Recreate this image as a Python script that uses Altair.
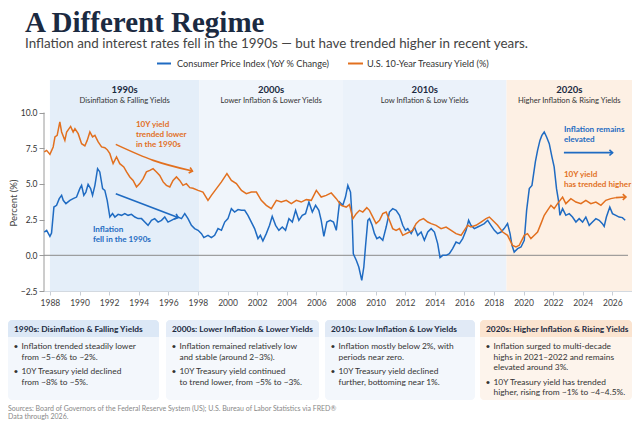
import altair as alt
import pandas as pd

# ---------------- data ----------------
cpi_year = [
    1987.62, 1987.78, 1988.00, 1988.11, 1988.27, 1988.45, 1988.63, 1988.79, 1988.90, 1989.08,
    1989.35, 1989.57, 1989.80, 1990.02, 1990.14, 1990.29, 1990.43, 1990.58, 1990.75, 1990.88,
    1991.04, 1991.22, 1991.37, 1991.56, 1991.71, 1991.87, 1992.05, 1992.23, 1992.39, 1992.61,
    1992.84, 1993.06, 1993.28, 1993.51, 1993.74, 1993.96, 1994.19, 1994.41, 1994.63, 1994.86,
    1995.08, 1995.31, 1995.54, 1995.76, 1995.98, 1996.21, 1996.43, 1996.66, 1996.89, 1997.11,
    1997.33, 1997.56, 1997.78, 1998.01, 1998.24, 1998.40, 1998.68, 1998.91, 1999.13, 1999.36,
    1999.59, 1999.81, 2000.03, 2000.26, 2000.48, 2000.71, 2000.94, 2001.16, 2001.38, 2001.61,
    2001.83, 2002.06, 2002.22, 2002.39, 2002.62, 2002.84, 2003.02, 2003.25, 2003.47, 2003.70,
    2003.92, 2004.15, 2004.38, 2004.60, 2004.82, 2005.05, 2005.27, 2005.50, 2005.73, 2005.95,
    2006.17, 2006.33, 2006.51, 2006.71, 2006.94, 2007.16, 2007.35, 2007.57, 2007.79, 2007.97,
    2008.13, 2008.31, 2008.42, 2008.50, 2008.70, 2008.87, 2009.07, 2009.21, 2009.32, 2009.48,
    2009.59, 2009.77, 2009.93, 2010.09, 2010.27, 2010.49, 2010.72, 2010.94, 2011.16, 2011.39,
    2011.62, 2011.84, 2012.02, 2012.18, 2012.41, 2012.63, 2012.85, 2013.08, 2013.30, 2013.53,
    2013.76, 2013.98, 2014.20, 2014.36, 2014.54, 2014.77, 2014.99, 2015.21, 2015.44, 2015.67,
    2015.89, 2016.12, 2016.29, 2016.45, 2016.68, 2016.90, 2017.13, 2017.35, 2017.58, 2017.80,
    2018.03, 2018.25, 2018.48, 2018.69, 2018.92, 2019.09, 2019.22, 2019.37, 2019.60, 2019.83,
    2020.05, 2020.21, 2020.39, 2020.57, 2020.80, 2020.95, 2021.11, 2021.24, 2021.40, 2021.56,
    2021.74, 2021.92, 2022.07, 2022.23, 2022.36, 2022.46, 2022.64, 2022.86, 2023.09, 2023.31,
    2023.54, 2023.76, 2023.99, 2024.21, 2024.44, 2024.66, 2024.89, 2025.11, 2025.33, 2025.45,
    2025.60, 2025.83, 2026.01, 2026.24, 2026.46, 2026.68, 2026.87,
]
cpi_value = [
    1.63, 1.75, 1.33, 1.56, 3.38, 3.50, 3.97, 4.20, 3.85, 3.62,
    3.85, 3.97, 4.08, 4.67, 4.90, 4.20, 4.43, 4.97, 4.67, 4.20,
    4.90, 6.07, 5.84, 4.67, 4.55, 3.85, 2.68, 2.92, 2.68, 2.87,
    2.80, 2.92, 2.80, 2.87, 2.68, 2.57, 2.57, 2.33, 2.10, 2.45,
    2.57, 2.33, 2.45, 2.68, 2.33, 2.45, 2.57, 2.68, 2.57, 2.92,
    2.57, 2.10, 1.87, 1.75, 1.52, 1.24, 1.40, 1.24, 1.40, 1.87,
    1.75, 2.33, 2.57, 3.27, 3.03, 3.20, 3.15, 3.15, 2.80, 2.33,
    1.87, 1.17, 1.40, 1.00, 1.52, 2.10, 2.73, 2.10, 1.75, 1.98,
    1.75, 2.57, 2.33, 3.15, 2.45, 2.80, 2.92, 3.73, 3.03, 3.50,
    3.15, 2.45, 1.33, 2.33, 2.45, 2.33, 1.75, 3.73, 3.50, 4.08,
    4.90, 4.43, 2.60, 0.10, -0.35, -0.82, -1.75, -0.82, 0.58, 2.45,
    2.57, 2.10, 1.52, 1.17, 1.28, 1.05, 1.98, 3.03, 3.27, 3.15,
    2.80, 2.10, 1.75, 1.87, 1.52, 1.98, 1.40, 1.63, 1.05, 1.63,
    1.87, 1.63, 0.82, -0.16, 0.00, 0.00, 0.12, 0.47, 0.93, 0.82,
    1.17, 1.75, 2.45, 2.10, 1.87, 1.98, 2.10, 2.22, 2.45, 2.10,
    1.75, 1.52, 1.63, 1.87, 2.22, 1.52, 0.70, 0.23, 0.47, 0.58,
    1.05, 3.15, 4.67, 4.90, 6.54, 7.35, 8.05, 8.40, 8.64, 8.29,
    7.82, 6.89, 6.19, 4.67, 3.85, 2.80, 3.27, 2.80, 2.92, 2.68,
    2.33, 2.57, 2.33, 2.68, 2.10, 2.33, 2.57, 2.45, 2.22, 2.03,
    2.68, 3.38, 2.92, 2.80, 2.68, 2.64, 2.45,
]
ust_year = [
    1987.62, 1987.78, 1988.00, 1988.22, 1988.34, 1988.49, 1988.67, 1988.79, 1989.01, 1989.13,
    1989.40, 1989.57, 1989.69, 1989.91, 1990.14, 1990.36, 1990.52, 1990.70, 1990.88, 1991.04,
    1991.26, 1991.49, 1991.71, 1991.87, 1992.05, 1992.16, 1992.27, 1992.50, 1992.72, 1992.99,
    1993.18, 1993.40, 1993.62, 1993.85, 1994.07, 1994.30, 1994.52, 1994.75, 1994.97, 1995.20,
    1995.42, 1995.65, 1995.87, 1996.10, 1996.32, 1996.55, 1996.77, 1996.99, 1997.22, 1997.45,
    1997.67, 1998.01, 1998.34, 1998.68, 1998.91, 1999.25, 1999.59, 1999.96, 2000.26, 2000.60,
    2000.94, 2001.27, 2001.61, 2001.95, 2002.28, 2002.62, 2002.96, 2003.30, 2003.63, 2003.97,
    2004.31, 2004.65, 2004.98, 2005.32, 2005.66, 2006.00, 2006.33, 2006.67, 2007.01, 2007.35,
    2007.68, 2008.02, 2008.24, 2008.47, 2008.70, 2008.92, 2009.14, 2009.41, 2009.59, 2009.82,
    2010.04, 2010.27, 2010.49, 2010.72, 2010.94, 2011.16, 2011.39, 2011.62, 2011.84, 2012.07,
    2012.29, 2012.51, 2012.74, 2012.97, 2013.24, 2013.53, 2013.76, 2014.09, 2014.43, 2014.77,
    2015.11, 2015.44, 2015.78, 2016.00, 2016.23, 2016.45, 2016.79, 2017.13, 2017.47, 2017.69,
    2017.91, 2018.25, 2018.59, 2018.92, 2019.26, 2019.49, 2019.71, 2020.05, 2020.27, 2020.50,
    2020.73, 2020.95, 2021.18, 2021.40, 2021.62, 2021.85, 2022.07, 2022.30, 2022.64, 2022.86,
    2023.20, 2023.54, 2023.88, 2024.21, 2024.55, 2024.89, 2025.23, 2025.56, 2025.90, 2026.24,
]
ust_value = [
    7.24, 7.35, 7.07, 7.59, 8.29, 8.40, 9.34, 8.64, 8.05, 8.64,
    9.03, 8.64, 8.87, 8.52, 7.82, 7.66, 8.05, 8.64, 8.29, 8.40,
    7.94, 7.59, 7.54, 7.40, 7.12, 6.77, 6.42, 6.89, 6.42, 6.19,
    5.84, 5.49, 5.25, 4.79, 5.02, 5.37, 5.84, 5.95, 6.07, 5.84,
    5.60, 5.14, 4.90, 4.79, 5.25, 5.49, 5.25, 4.90, 5.02, 4.74,
    4.70, 4.55, 4.43, 3.85, 4.20, 4.67, 5.14, 5.72, 5.25, 5.02,
    4.55, 4.32, 4.43, 4.43, 3.85, 3.50, 3.27, 3.85, 3.73, 3.85,
    3.62, 3.85, 3.73, 3.90, 3.85, 4.55, 4.08, 4.20, 4.37, 3.97,
    3.50, 3.38, 3.55, 2.57, 2.92, 3.15, 3.03, 3.34, 3.15, 2.68,
    2.22, 2.45, 2.92, 3.03, 2.45, 1.87, 1.75, 1.87, 1.40, 1.52,
    1.63, 1.75, 2.22, 2.45, 2.57, 2.33, 2.22, 2.10, 1.87, 1.98,
    1.75, 1.52, 1.40, 1.75, 2.10, 1.98, 2.10, 2.33, 2.57, 2.68,
    2.45, 2.10, 1.63, 1.40, 0.70, 0.58, 0.70, 1.40, 1.52, 1.17,
    1.40, 1.63, 2.22, 2.80, 3.15, 3.50, 3.27, 3.62, 4.08, 3.62,
    3.97, 3.73, 3.62, 3.85, 3.62, 3.73, 3.50, 3.85, 3.97, 4.04,
]

series_names = ["Consumer Price Index (YoY % Change)", "U.S. 10-Year Treasury Yield (%)"]
series_colors = ["#1f6bc2", "#e2701f"]

decade_names = ["1990s", "2000s", "2010s", "2020s"]
decade_themes = ["Disinflation & Falling Yields", "Lower Inflation & Lower Yields",
                 "Low Inflation & Low Yields", "Higher Inflation & Rising Yields"]
decade_start = [1988.0, 1998.1, 2007.8, 2018.85]
decade_end = [1998.1, 2007.8, 2018.85, 2027.33]
decade_fill = ["#e4eef9", "#f0f5fb", "#ebf2fa", "#fdf0e4"]

x_ticks = list(range(1988, 2027, 2))
y_ticks = [-2.5, 0.0, 2.5, 5.0, 7.5, 10.0]

box_titles = ["1990s: Disinflation & Falling Yields", "2000s: Lower Inflation & Lower Yields",
              "2010s: Low Inflation & Low Yields", "2020s: Higher Inflation & Rising Yields"]
box_bullets = [
    [["Inflation trended steadily lower", "from ~5–6% to ~2%."],
     ["10Y Treasury yield declined", "from ~8% to ~5%."]],
    [["Inflation remained relatively low", "and stable (around 2–3%)."],
     ["10Y Treasury yield continued", "to trend lower, from ~5% to ~3%."]],
    [["Inflation mostly below 2%, with", "periods near zero."],
     ["10Y Treasury yield declined", "further, bottoming near 1%."]],
    [["Inflation surged to multi-decade", "highs in 2021–2022 and remains", "elevated around 3%."],
     ["10Y Treasury yield has trended", "higher, rising from ~1% to ~4–4.5%."]],
]

TITLE = "A Different Regime"
SUBTITLE = "Inflation and interest rates fell in the 1990s — but have trended higher in recent years."
SOURCE = ["Sources: Board of Governors of the Federal Reserve System (US); U.S. Bureau of Labor Statistics via FRED®",
          "Data through 2026."]

# ---------------- layout / style ----------------
FONT = "Lato"
NAVY = "#1b2a41"
W, H = 588, 211
xscale = alt.Scale(domain=[1987.6, 2027.33], nice=False, zero=False)
yscale = alt.Scale(domain=[-2.5, 12.28], nice=False, zero=False)
BLUE, ORANGE = series_colors

XAXIS = alt.Axis(values=x_ticks, format="d", grid=False, title=None, labelFont=FONT,
                 labelFontSize=8.5, labelColor="#444", domainColor="#d3d9e0",
                 tickColor="#c8ced6", tickSize=4, labelPadding=3)
YAXIS = alt.Axis(values=y_ticks, format=".1f", grid=False, title=None, domain=False,
                 labelFont=FONT, labelFontSize=8.5, labelColor="#333",
                 tickColor="#9a9a9a", tickSize=5, labelPadding=2)


def X(field):
    return alt.X(field, type="quantitative", scale=xscale, axis=XAXIS)


def Y(field):
    return alt.Y(field, type="quantitative", scale=yscale, axis=YAXIS)


layers = []

# decade bands
bands = pd.DataFrame({"start": decade_start, "end": decade_end, "fill": decade_fill,
                      "name": decade_names, "theme": decade_themes})
bands["mid"] = (bands["start"] + bands["end"]) / 2
layers.append(alt.Chart(bands).mark_rect().encode(
    x=X("start"), x2="end", y=alt.value(0), y2=alt.value(H), fill=alt.Fill("fill:N", scale=None)))
layers.append(alt.Chart(bands).mark_text(font=FONT, fontSize=9.5, fontWeight="bold", color=NAVY,
                                         baseline="middle").encode(
    x=X("mid"), y=alt.value(10), text="name:N"))
layers.append(alt.Chart(bands).mark_text(font=FONT, fontSize=7.6, color="#333", baseline="middle").encode(
    x=X("mid"), y=alt.value(21), text="theme:N"))

# zero line and y-axis line
layers.append(alt.Chart(pd.DataFrame({"v": [0.0]})).mark_rule(color="#8a8a8a", strokeWidth=1).encode(
    y=Y("v"), x=alt.value(0), x2=alt.value(W - 4)))
layers.append(alt.Chart(pd.DataFrame({"a": [y_ticks[0]], "b": [y_ticks[-1]]})).mark_rule(
    color="#9a9a9a", strokeWidth=1).encode(y=Y("a"), y2="b", x=alt.value(0)))

# series lines
lines = pd.concat([
    pd.DataFrame({"year": cpi_year, "value": cpi_value, "series": series_names[0]}),
    pd.DataFrame({"year": ust_year, "value": ust_value, "series": series_names[1]}),
])
color = alt.Color("series:N", scale=alt.Scale(domain=series_names, range=series_colors), legend=None)
layers.append(alt.Chart(lines).mark_line(strokeWidth=1.5).encode(
    x=X("year"), y=Y("value"), color=color, order="year:Q"))

# annotations (y is the first line of each block)
ann_text = ["10Y yield\ntrended lower\nin the 1990s", "Inflation\nfell in the 1990s",
            "Inflation remains\nelevated", "10Y yield\nhas trended higher"]
ann_year = [1993.81, 1990.91, 2022.73, 2022.73]
ann_value = [9.10, 1.75, 8.80, 5.60]
ann_color = [ORANGE, BLUE, BLUE, ORANGE]
for t, yr, v, c in zip(ann_text, ann_year, ann_value, ann_color):
    layers.append(alt.Chart(pd.DataFrame({"t": [t], "x": [yr], "y": [v]})).mark_text(
        font=FONT, fontSize=8.1, fontWeight="bold", color=c, align="left", baseline="middle",
        lineBreak="\n", lineHeight=10).encode(x=X("x"), y=Y("y"), text="t:N"))

arrow_years = [[1992.45, 1994.98, 1997.63], [1992.45, 1996.66], [2022.73, 2026.02], [2026.24, 2026.92]]
arrow_values = [[7.77, 6.65, 5.90], [4.32, 2.64], [7.19, 7.19], [4.04, 4.08]]
arrow_colors = [ORANGE, BLUE, BLUE, ORANGE]
arrow_angles = [15, 21, 0, 0]
CHEVRON = "M-1,-0.9L0,0L-1,0.9"
for ys, vs, c, ang in zip(arrow_years, arrow_values, arrow_colors, arrow_angles):
    df = pd.DataFrame({"x": ys, "y": vs, "o": list(range(len(ys)))})
    layers.append(alt.Chart(df).mark_line(color=c, strokeWidth=1.6, interpolate="monotone").encode(
        x=X("x"), y=Y("y"), order="o:Q"))
    layers.append(alt.Chart(df.tail(1)).mark_point(shape=CHEVRON, filled=False, color=c, strokeWidth=1.6,
                                                   size=40, angle=ang, opacity=1).encode(x=X("x"), y=Y("y")))

# y-axis title
layers.append(alt.Chart(pd.DataFrame({"t": ["Percent (%)"]})).mark_text(
    font=FONT, fontSize=9.5, color="#444", angle=270, baseline="middle").encode(
    x=alt.value(-30), y=alt.value(123), text="t:N"))

# title & subtitle
layers.append(alt.Chart(pd.DataFrame({"t": [TITLE]})).mark_text(
    font="Liberation Serif", fontSize=29, fontWeight="bold", color=NAVY, align="left",
    baseline="alphabetic").encode(x=alt.value(-19), y=alt.value(-48.5), text="t:N"))
layers.append(alt.Chart(pd.DataFrame({"t": [SUBTITLE]})).mark_text(
    font=FONT, fontSize=13.4, color="#444", align="left", baseline="alphabetic").encode(
    x=alt.value(-19), y=alt.value(-32.5), text="t:N"))

# legend (drawn with the same colour scale)
leg = pd.DataFrame({"series": series_names, "x0": [113, 304], "x1": [127, 319], "tx": [133, 323]})
layers.append(alt.Chart(leg).mark_rule(strokeWidth=2).encode(
    x=alt.X("x0:Q", scale=None), x2="x1:Q", y=alt.value(-16.5), color=color))
layers.append(alt.Chart(leg).mark_text(font=FONT, fontSize=9.2, color="#333", align="left",
                                       baseline="middle").encode(
    x=alt.X("tx:Q", scale=None), y=alt.value(-16.5), text="series:N"))

# bottom boxes
BOX_LEFT = [-36, 122, 281, 436]
BOX_RIGHT = [115, 275, 431, 588]
BOX_TOP, HEAD_BOTTOM, BOX_BOTTOM = 240, 257, 320
HEAD_FILL = ["#dce8f6", "#e5edf8", "#e1eaf6", "#fbe4d0"]
BODY_FILL = ["#f3f7fc", "#f5f8fc", "#f3f7fc", "#fdf4ec"]
boxes = pd.DataFrame({"l": BOX_LEFT, "r": BOX_RIGHT, "t": [BOX_TOP] * 4, "hb": [HEAD_BOTTOM] * 4,
                      "b": [BOX_BOTTOM] * 4, "hf": HEAD_FILL, "bf": BODY_FILL,
                      "title": box_titles, "tx": [v + 6 for v in BOX_LEFT],
                      "ty": [(BOX_TOP + HEAD_BOTTOM) / 2 + 0.5] * 4})
layers.append(alt.Chart(boxes).mark_rect(cornerRadius=4).encode(
    x=alt.X("l:Q", scale=None), x2="r:Q", y=alt.Y("t:Q", scale=None), y2="b:Q",
    fill=alt.Fill("bf:N", scale=None)))
layers.append(alt.Chart(boxes).mark_rect(cornerRadiusTopLeft=4, cornerRadiusTopRight=4).encode(
    x=alt.X("l:Q", scale=None), x2="r:Q", y=alt.Y("t:Q", scale=None), y2="hb:Q",
    fill=alt.Fill("hf:N", scale=None)))
layers.append(alt.Chart(boxes).mark_text(font=FONT, fontSize=8.4, fontWeight="bold", color=NAVY,
                                         align="left", baseline="middle").encode(
    x=alt.X("tx:Q", scale=None), y=alt.Y("ty:Q", scale=None), text="title:N"))

LINE_H, FIRST_Y, GAP = 10.7, 266, 3.6
rows, dots = [], []
for bi, bullets in enumerate(box_bullets):
    yy = FIRST_Y
    for lines_ in bullets:
        dots.append({"x": BOX_LEFT[bi] + 8, "y": yy, "t": "•"})
        for ln in lines_:
            rows.append({"x": BOX_LEFT[bi] + 13.5, "y": yy, "t": ln})
            yy += LINE_H
        yy += GAP
layers.append(alt.Chart(pd.DataFrame(dots)).mark_text(font=FONT, fontSize=8.4, color="#333",
                                                      align="center", baseline="middle").encode(
    x=alt.X("x:Q", scale=None), y=alt.Y("y:Q", scale=None), text="t:N"))
layers.append(alt.Chart(pd.DataFrame(rows)).mark_text(font=FONT, fontSize=8.4, color="#333",
                                                      align="left", baseline="middle").encode(
    x=alt.X("x:Q", scale=None), y=alt.Y("y:Q", scale=None), text="t:N"))

# source
src = pd.DataFrame({"t": SOURCE, "y": [329.3, 337.3]})
layers.append(alt.Chart(src).mark_text(font=FONT, fontSize=7, color="#888", align="left",
                                       baseline="middle").encode(
    x=alt.value(-36), y=alt.Y("y:Q", scale=None), text="t:N"))

chart = alt.layer(*layers).properties(
    width=W, height=H,
    padding={"left": 36, "top": 72, "right": 0, "bottom": 136},
    autosize=alt.AutoSizeParams(type="none"),
    background="white",
).configure_view(stroke=None)

chart.save("out.html", embed_options={"renderer": "svg", "actions": False})
